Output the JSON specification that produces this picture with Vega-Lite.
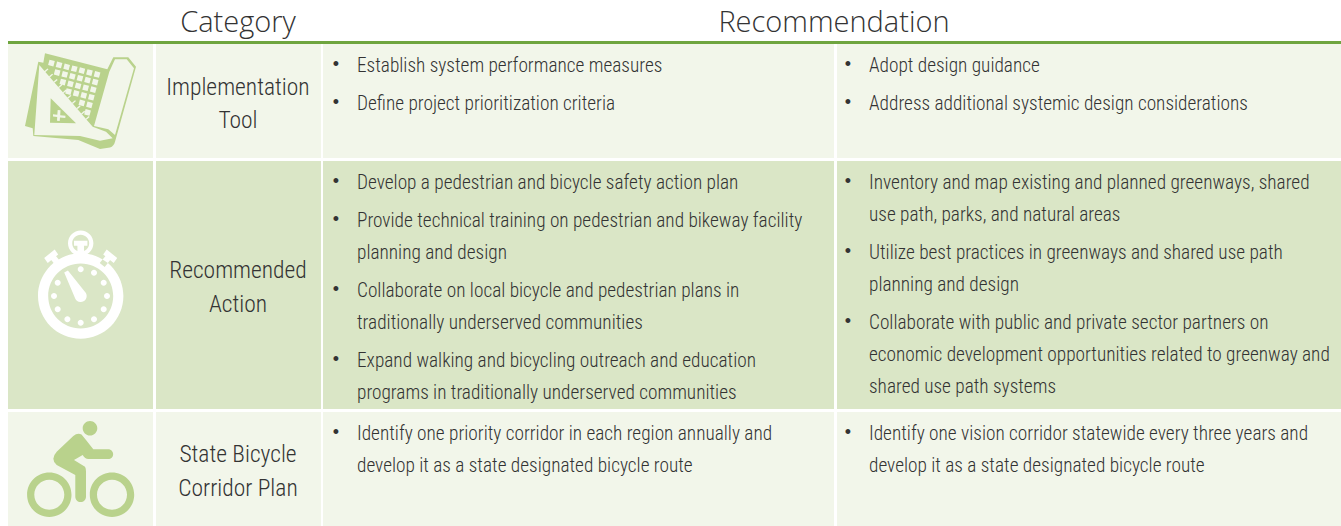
{"$schema":"https://vega.github.io/schema/vega-lite/v6.json","width":1341,"height":526,"padding":0,"autosize":{"type":"fit","contains":"padding"},"background":"#ffffff","config":{"view":{"stroke":null}},
"datasets":{
"cells":[
{"band":"rule","x0":8,"x1":1341,"y0":41,"y1":44},
{"band":"light","x0":8,"x1":153,"y0":44,"y1":158},{"band":"light","x0":156,"x1":321,"y0":44,"y1":158},{"band":"light","x0":323,"x1":834,"y0":44,"y1":158},{"band":"light","x0":837,"x1":1341,"y0":44,"y1":158},
{"band":"dark","x0":8,"x1":153,"y0":161,"y1":409},{"band":"dark","x0":156,"x1":321,"y0":161,"y1":409},{"band":"dark","x0":323,"x1":834,"y0":161,"y1":409},{"band":"dark","x0":837,"x1":1341,"y0":161,"y1":409},
{"band":"light","x0":8,"x1":153,"y0":412,"y1":526},{"band":"light","x0":156,"x1":321,"y0":412,"y1":526},{"band":"light","x0":323,"x1":834,"y0":412,"y1":526},{"band":"light","x0":837,"x1":1341,"y0":412,"y1":526}],
"icons":[{"icon":"map","x":80,"y":100},{"icon":"watch","x":80.7,"y":296},{"icon":"bike","x":80,"y":470}],
"headers":[{"t":"Category","x":238,"y":22.5},{"t":"Recommendation","x":834,"y":22.5}],
"cats":[{"t":"Implementation","x":238,"y":88},{"t":"Tool","x":238,"y":121},{"t":"Recommended","x":238,"y":271},{"t":"Action","x":238,"y":305},{"t":"State Bicycle","x":238,"y":455},{"t":"Corridor Plan","x":238,"y":489}],
"bullets":[{"t":"•","x":336,"y":65},{"t":"•","x":336,"y":103},{"t":"•","x":848,"y":65},{"t":"•","x":848,"y":103},{"t":"•","x":336,"y":182},{"t":"•","x":336,"y":220},{"t":"•","x":336,"y":290},{"t":"•","x":336,"y":360},{"t":"•","x":848,"y":182},{"t":"•","x":848,"y":252},{"t":"•","x":848,"y":322},{"t":"•","x":336,"y":433},{"t":"•","x":848,"y":433}],
"lines":[
{"t":"Establish system performance measures","x":357,"y":66},{"t":"Define project prioritization criteria","x":357,"y":104},
{"t":"Adopt design guidance","x":869,"y":66},{"t":"Address additional systemic design considerations","x":869,"y":104},
{"t":"Develop a pedestrian and bicycle safety action plan","x":357,"y":183},{"t":"Provide technical training on pedestrian and bikeway facility","x":357,"y":221},{"t":"planning and design","x":357,"y":253},{"t":"Collaborate on local bicycle and pedestrian plans in","x":357,"y":291},{"t":"traditionally underserved communities","x":357,"y":323},{"t":"Expand walking and bicycling outreach and education","x":357,"y":361},{"t":"programs in traditionally underserved communities","x":357,"y":393},
{"t":"Inventory and map existing and planned greenways, shared","x":869,"y":183},{"t":"use path, parks, and natural areas","x":869,"y":215},{"t":"Utilize best practices in greenways and shared use path","x":869,"y":253},{"t":"planning and design","x":869,"y":285},{"t":"Collaborate with public and private sector partners on","x":869,"y":323},{"t":"economic development opportunities related to greenway and","x":869,"y":355},{"t":"shared use path systems","x":869,"y":387},
{"t":"Identify one priority corridor in each region annually and","x":357,"y":434},{"t":"develop it as a state designated bicycle route","x":357,"y":466},{"t":"Identify one vision corridor statewide every three years and","x":869,"y":434},{"t":"develop it as a state designated bicycle route","x":869,"y":466}]
},
"encoding":{"x":{"field":"x","type":"quantitative","axis":null,"scale":{"domain":[0,1341],"nice":false,"zero":false}},"y":{"field":"y","type":"quantitative","axis":null,"scale":{"domain":[526,0],"nice":false,"zero":false}}},
"layer":[
{"data":{"name":"cells"},"mark":{"type":"rect"},"encoding":{"x":{"field":"x0","type":"quantitative","axis":null,"scale":{"domain":[0,1341],"nice":false,"zero":false}},"x2":{"field":"x1"},"y":{"field":"y0","type":"quantitative","axis":null,"scale":{"domain":[526,0],"nice":false,"zero":false}},"y2":{"field":"y1"},"color":{"field":"band","type":"nominal","legend":null,"scale":{"domain":["rule","light","dark"],"range":["#6fa53f","#f2f6ea","#dae6c6"]}}}},
{"data":{"name":"icons"},"transform":[{"filter":"datum.icon=='map'"}],"mark":{"type":"point","filled":true,"opacity":1,"size":4,"color":"#b9d28c","shape":"M-35 -46.7L27.3 -30.7L33.3 -42.7L48.3 -42.7L56 -33.3L35 41.7Q34 46 30 47.5L20 49L-1.7 40L-46.7 36L-47.3 28.3L-55 26L-41.7 -38.3L-36.7 -37.3Z"}},
{"data":{"name":"icons"},"transform":[{"filter":"datum.icon=='map'"}],"mark":{"type":"point","filled":true,"opacity":1,"size":4,"color":"#f2f6ea","shape":"M35 -40.7L46.7 -40.7L54 -31.7L35 35L28.3 29.3L14 26L29.3 -28.3ZM-40.7 -35L12.7 26.7L26 31.7L32.7 38.3L20 40.7L0 36L-45.7 35Z M-35.5 -29l3 -2.6l1 .9l-3 2.6z M-30.9 -23.7l3 -2.6l1 .9l-3 2.6z M-26.3 -18.4l3 -2.6l1 .9l-3 2.6z M-21.7 -13.1l3 -2.6l1 .9l-3 2.6z M-17.2 -7.8l3 -2.6l1 .9l-3 2.6z M-12.6 -2.5l3 -2.6l1 .9l-3 2.6z M-8 2.8l3 -2.6l1 .9l-3 2.6z M-3.4 8.1l3 -2.6l1 .9l-3 2.6z M1.2 13.4l3 -2.6l1 .9l-3 2.6z M5.7 18.7l3 -2.6l1 .9l-3 2.6z M-30.5 -40.3l5.3 1.4l-1.4 5.3l-5.3 -1.4z M-22.9 -38.4l5.3 1.4l-1.4 5.3l-5.3 -1.4z M-15.3 -36.5l5.3 1.4l-1.4 5.3l-5.3 -1.4z M-7.7 -34.6l5.3 1.4l-1.4 5.3l-5.3 -1.4z M-.1 -32.7l5.3 1.4l-1.4 5.3l-5.3 -1.4z M7.5 -30.8l5.3 1.4l-1.4 5.3l-5.3 -1.4z M15.1 -28.9l5.3 1.4l-1.4 5.3l-5.3 -1.4z M-24.8 -30.8l5.3 1.4l-1.4 5.3l-5.3 -1.4z M-17.2 -28.9l5.3 1.4l-1.4 5.3l-5.3 -1.4z M-9.6 -27l5.3 1.4l-1.4 5.3l-5.3 -1.4z M-2 -25.1l5.3 1.4l-1.4 5.3l-5.3 -1.4z M5.6 -23.2l5.3 1.4l-1.4 5.3l-5.3 -1.4z M13.2 -21.3l5.3 1.4l-1.4 5.3l-5.3 -1.4z M-19.1 -21.3l5.3 1.4l-1.4 5.3l-5.3 -1.4z M-11.5 -19.4l5.3 1.4l-1.4 5.3l-5.3 -1.4z M-3.9 -17.5l5.3 1.4l-1.4 5.3l-5.3 -1.4z M3.7 -15.6l5.3 1.4l-1.4 5.3l-5.3 -1.4z M11.3 -13.7l5.3 1.4l-1.4 5.3l-5.3 -1.4z M-13.4 -11.8l5.3 1.4l-1.4 5.3l-5.3 -1.4z M-5.8 -9.9l5.3 1.4l-1.4 5.3l-5.3 -1.4z M1.8 -8l5.3 1.4l-1.4 5.3l-5.3 -1.4z M9.4 -6.1l5.3 1.4l-1.4 5.3l-5.3 -1.4z M-.1 -.4l5.3 1.4l-1.4 5.3l-5.3 -1.4z M7.5 1.5l5.3 1.4l-1.4 5.3l-5.3 -1.4z M5.6 9.1l5.3 1.4l-1.4 5.3l-5.3 -1.4z"}},
{"data":{"name":"icons"},"transform":[{"filter":"datum.icon=='map'"}],"mark":{"type":"point","filled":true,"opacity":1,"size":4,"color":"#b9d28c","shape":"M-29.3 -1.7L-4 23.3L-30 22.7Z"}},
{"data":{"name":"icons"},"transform":[{"filter":"datum.icon=='map'"}],"mark":{"type":"point","filled":true,"opacity":1,"size":4,"color":"#f2f6ea","shape":"M-27 14.3L-22.7 14.8L-22.3 10L-19.5 10.3L-19.8 15.2L-14.5 15.8L-14.7 18L-20 17.5L-20.3 21L-23 20.7L-22.8 17L-27 16.6Z"}},
{"data":{"name":"icons"},"transform":[{"filter":"datum.icon=='watch'"}],"mark":{"type":"point","filled":true,"opacity":1,"size":4,"color":"#ffffff","shape":"M-42.7 0A42.7 42.7 0 1 1 42.7 0A42.7 42.7 0 1 1 -42.7 0ZM-12.7 -52.7A12.7 12.7 0 1 1 12.7 -52.7A12.7 12.7 0 1 1 -12.7 -52.7ZM-36.5 -38L-26 -46.5L-22.5 -41.5L-33 -33ZM-31 -38L-26.5 -42L-19 -33L-24 -29ZM36.5 -38L26 -46.5L22.5 -41.5L33 -33ZM31 -38L26.5 -42L19 -33L24 -29Z"}},
{"data":{"name":"icons"},"transform":[{"filter":"datum.icon=='watch'"}],"mark":{"type":"point","filled":true,"opacity":1,"size":4,"color":"#dae6c6","shape":"M-32.5 0A32.5 32.5 0 1 1 32.5 0A32.5 32.5 0 1 1 -32.5 0ZM-8.5 -52.7A8.5 8.5 0 1 1 8.5 -52.7A8.5 8.5 0 1 1 -8.5 -52.7Z"}},
{"data":{"name":"icons"},"transform":[{"filter":"datum.icon=='watch'"}],"mark":{"type":"point","filled":true,"opacity":1,"size":4,"color":"#ffffff","shape":"M-6.7 -55.3L6.7 -55.3L6.7 -50.3L3.3 -50.3L3.3 -41L-3.3 -41L-3.3 -50.3L-6.7 -50.3ZM-16.5 -23.5L-12.8 -25.5L5.2 -3A6 6 0 1 1 -5.5 2.4ZM-3 -26.7a3 3 0 1 1 6 0a3 3 0 1 1 -6 0ZM10.3 -23.3a3 3 0 1 1 6 0a3 3 0 1 1 -6 0ZM20 -13.3a3 3 0 1 1 6 0a3 3 0 1 1 -6 0ZM23.3 0a3 3 0 1 1 6 0a3 3 0 1 1 -6 0ZM20 13.3a3 3 0 1 1 6 0a3 3 0 1 1 -6 0ZM10.3 23.3a3 3 0 1 1 6 0a3 3 0 1 1 -6 0ZM-3 26.7a3 3 0 1 1 6 0a3 3 0 1 1 -6 0ZM-16.3 23.3a3 3 0 1 1 6 0a3 3 0 1 1 -6 0ZM-26 13.3a3 3 0 1 1 6 0a3 3 0 1 1 -6 0ZM-29.7 0a3 3 0 1 1 6 0a3 3 0 1 1 -6 0ZM-26 -13.3a3 3 0 1 1 6 0a3 3 0 1 1 -6 0Z"}},
{"data":{"name":"icons"},"transform":[{"filter":"datum.icon=='bike'"}],"mark":{"type":"point","filled":true,"opacity":1,"size":4,"color":"#b9d28c","shape":"M2.7 -41.7A7.3 7.3 0 1 1 17.3 -41.7A7.3 7.3 0 1 1 2.7 -41.7ZM-6.7 -34Q-2.5 -37.5 1.5 -35.5L6 -30L13.3 -20.7L28.3 -20.7A4.85 4.85 0 0 1 28.3 -11L8.3 -11Q5 -11 2.7 -15L-6 -10L5 -3.3Q6 -2 6 1.7L6 26.7A5.35 5.35 0 0 1 -4.7 26.7L-4.7 5L-23.3 -5Q-30 -11 -23.3 -18.3ZM-52.9 24.7A22.2 22.2 0 1 1 -8.5 24.7A22.2 22.2 0 1 1 -52.9 24.7ZM-45.7 24.7A15 15 0 1 0 -15.7 24.7A15 15 0 1 0 -45.7 24.7ZM9.8 24.7A22.2 22.2 0 1 1 54.2 24.7A22.2 22.2 0 1 1 9.8 24.7ZM17 24.7A15 15 0 1 0 47 24.7A15 15 0 1 0 17 24.7Z"}},
{"data":{"name":"bullets"},"mark":{"type":"text","align":"center","baseline":"middle","font":"Liberation Sans","fontSize":18,"color":"#333333"},"encoding":{"text":{"field":"t","type":"nominal"}}},
{"data":{"name":"lines"},"mark":{"type":"text","align":"left","baseline":"middle","font":"Roboto Condensed","fontWeight":300,"fontSize":19.3,"color":"#333333"},"encoding":{"text":{"field":"t","type":"nominal"}}},
{"data":{"name":"cats"},"mark":{"type":"text","align":"center","baseline":"middle","font":"Roboto Condensed","fontWeight":300,"fontSize":23.5,"color":"#333333"},"encoding":{"text":{"field":"t","type":"nominal"}}},
{"data":{"name":"headers"},"mark":{"type":"text","align":"center","baseline":"middle","font":"Open Sans","fontWeight":300,"fontSize":29,"color":"#333333"},"encoding":{"text":{"field":"t","type":"nominal"}}}
]}
